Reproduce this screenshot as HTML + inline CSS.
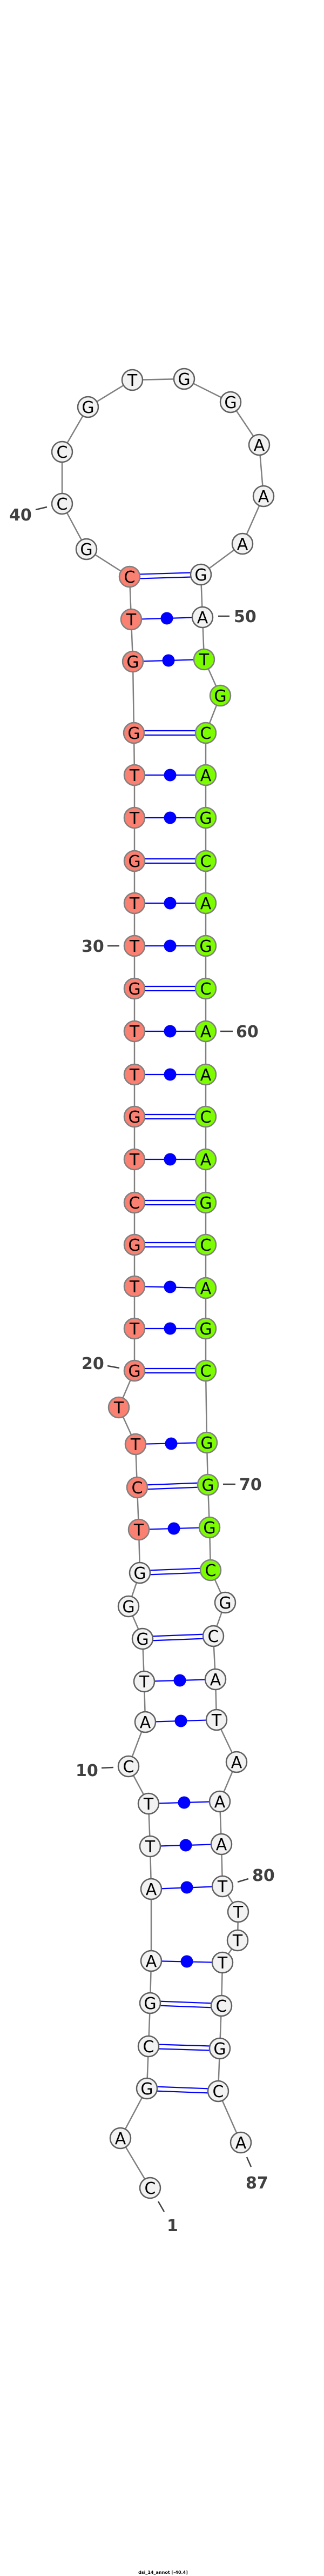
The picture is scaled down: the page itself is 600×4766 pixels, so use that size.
<!DOCTYPE html>
<html><head><meta charset="utf-8"><style>
html,body{margin:0;padding:0;background:#fff;}
svg{display:block;}
.n text{font-family:"DejaVu Sans","Liberation Sans",sans-serif;font-size:30px;text-anchor:middle;fill:#000;}
.lb{font-family:"DejaVu Sans","Liberation Sans",sans-serif;font-size:30px;font-weight:bold;fill:#404040;}
</style></head><body>
<svg width="600" height="4766" viewBox="0 0 600 4766" xmlns="http://www.w3.org/2000/svg">
<polyline fill="none" stroke="#808080" stroke-width="2.5" points="278,4048 223,3956 272,3864 275,3786 278,3706 280,3628 280,3495 278,3416 275,3337 238,3268 269,3186 267,3111 264,3032 238,2972 259,2910 257,2830 254,2752 251,2672 220,2604 249,2536 249,2458 249,2380 249,2303 249,2225 249,2145 249,2066 249,1988 249,1908 249,1829 249,1750 249,1671 249,1593 249,1513 249,1434 248,1356 246,1224 243,1146 240,1067 160,1016 115,932 115,836 163,753 245,703 341,701 427,744 480,823 488,918 449,1006 372,1063 375,1142 378,1220 408,1287 381,1356 381,1434 381,1513 381,1593 381,1671 381,1750 381,1829 381,1908 381,1988 381,2066 381,2145 381,2225 381,2303 381,2383 381,2458 381,2536 383,2669 385,2747 388,2826 390,2905 417,2965 395,3027 399,3107 401,3182 438,3260 407,3333 410,3412 412,3490 441,3537 440,3590 412,3631 410,3711 407,3790 404,3869 446,3964"/>
<g stroke="#0000ff" stroke-width="2.2">
<!-- double pairs -->
<line x1="240" y1="1063" x2="372" y2="1059"/><line x1="240" y1="1071" x2="372" y2="1067"/>
<line x1="248" y1="1352" x2="381" y2="1352"/><line x1="248" y1="1360" x2="381" y2="1360"/>
<line x1="249" y1="1589" x2="381" y2="1589"/><line x1="249" y1="1597" x2="381" y2="1597"/>
<line x1="249" y1="1825" x2="381" y2="1825"/><line x1="249" y1="1833" x2="381" y2="1833"/>
<line x1="249" y1="2062" x2="381" y2="2062"/><line x1="249" y1="2070" x2="381" y2="2070"/>
<line x1="249" y1="2221" x2="381" y2="2221"/><line x1="249" y1="2229" x2="381" y2="2229"/>
<line x1="249" y1="2299" x2="381" y2="2299"/><line x1="249" y1="2307" x2="381" y2="2307"/>
<line x1="249" y1="2532" x2="381" y2="2532"/><line x1="249" y1="2540" x2="381" y2="2540"/>
<line x1="254" y1="2748" x2="385" y2="2743"/><line x1="254" y1="2756" x2="385" y2="2751"/>
<line x1="259" y1="2906" x2="390" y2="2901"/><line x1="259" y1="2914" x2="390" y2="2909"/>
<line x1="264" y1="3028" x2="395" y2="3023"/><line x1="264" y1="3036" x2="395" y2="3031"/>
<line x1="278" y1="3702" x2="410" y2="3707"/><line x1="278" y1="3710" x2="410" y2="3715"/>
<line x1="275" y1="3782" x2="407" y2="3786"/><line x1="275" y1="3790" x2="407" y2="3794"/>
<line x1="272" y1="3860" x2="404" y2="3865"/><line x1="272" y1="3868" x2="404" y2="3873"/>
<!-- single pairs -->
<line x1="243" y1="1146" x2="375" y2="1142"/>
<line x1="246" y1="1224" x2="378" y2="1220"/>
<line x1="249" y1="1434" x2="381" y2="1434"/>
<line x1="249" y1="1513" x2="381" y2="1513"/>
<line x1="249" y1="1671" x2="381" y2="1671"/>
<line x1="249" y1="1750" x2="381" y2="1750"/>
<line x1="249" y1="1908" x2="381" y2="1908"/>
<line x1="249" y1="1988" x2="381" y2="1988"/>
<line x1="249" y1="2145" x2="381" y2="2145"/>
<line x1="249" y1="2380" x2="381" y2="2383"/>
<line x1="249" y1="2458" x2="381" y2="2458"/>
<line x1="251" y1="2672" x2="383" y2="2669"/>
<line x1="257" y1="2830" x2="388" y2="2826"/>
<line x1="267" y1="3111" x2="399" y2="3107"/>
<line x1="269" y1="3186" x2="401" y2="3182"/>
<line x1="275" y1="3337" x2="407" y2="3333"/>
<line x1="278" y1="3416" x2="410" y2="3412"/>
<line x1="280" y1="3495" x2="412" y2="3490"/>
<line x1="280" y1="3628" x2="412" y2="3631"/>
</g>
<g fill="#0000ff">
<circle cx="309" cy="1144" r="11.5"/><circle cx="312" cy="1222" r="11.5"/>
<circle cx="315" cy="1434" r="11.5"/><circle cx="315" cy="1513" r="11.5"/>
<circle cx="315" cy="1671" r="11.5"/><circle cx="315" cy="1750" r="11.5"/>
<circle cx="315" cy="1908" r="11.5"/><circle cx="315" cy="1988" r="11.5"/>
<circle cx="315" cy="2145" r="11.5"/><circle cx="315" cy="2381" r="11.5"/>
<circle cx="315" cy="2458" r="11.5"/><circle cx="317" cy="2671" r="11.5"/>
<circle cx="322" cy="2828" r="11.5"/><circle cx="333" cy="3109" r="11.5"/>
<circle cx="335" cy="3184" r="11.5"/><circle cx="341" cy="3335" r="11.5"/>
<circle cx="344" cy="3414" r="11.5"/><circle cx="346" cy="3492" r="11.5"/>
<circle cx="346" cy="3629" r="11.5"/>
</g>
<g class="n" stroke-width="2.5">
<g fill="#f2f2f2" stroke="#606060">
<circle cx="278" cy="4048" r="19"/><circle cx="223" cy="3956" r="19"/><circle cx="272" cy="3864" r="19"/><circle cx="275" cy="3786" r="19"/><circle cx="278" cy="3706" r="19"/><circle cx="280" cy="3628" r="19"/><circle cx="280" cy="3495" r="19"/><circle cx="278" cy="3416" r="19"/><circle cx="275" cy="3337" r="19"/><circle cx="238" cy="3268" r="19"/><circle cx="269" cy="3186" r="19"/><circle cx="267" cy="3111" r="19"/><circle cx="264" cy="3032" r="19"/><circle cx="238" cy="2972" r="19"/><circle cx="259" cy="2910" r="19"/>
<circle cx="160" cy="1016" r="19"/><circle cx="115" cy="932" r="19"/><circle cx="115" cy="836" r="19"/><circle cx="163" cy="753" r="19"/><circle cx="245" cy="703" r="19"/><circle cx="341" cy="701" r="19"/><circle cx="427" cy="744" r="19"/><circle cx="480" cy="823" r="19"/><circle cx="488" cy="918" r="19"/><circle cx="449" cy="1006" r="19"/><circle cx="372" cy="1063" r="19"/><circle cx="375" cy="1142" r="19"/>
<circle cx="417" cy="2965" r="19"/><circle cx="395" cy="3027" r="19"/><circle cx="399" cy="3107" r="19"/><circle cx="401" cy="3182" r="19"/><circle cx="438" cy="3260" r="19"/><circle cx="407" cy="3333" r="19"/><circle cx="410" cy="3412" r="19"/><circle cx="412" cy="3490" r="19"/><circle cx="441" cy="3537" r="19"/><circle cx="440" cy="3590" r="19"/><circle cx="412" cy="3631" r="19"/><circle cx="410" cy="3711" r="19"/><circle cx="407" cy="3790" r="19"/><circle cx="404" cy="3869" r="19"/><circle cx="446" cy="3964" r="19"/>
</g>
<g fill="#fa8072" stroke="#808080">
<circle cx="257" cy="2830" r="19"/><circle cx="254" cy="2752" r="19"/><circle cx="251" cy="2672" r="19"/><circle cx="220" cy="2604" r="19"/><circle cx="249" cy="2536" r="19"/><circle cx="249" cy="2458" r="19"/><circle cx="249" cy="2380" r="19"/><circle cx="249" cy="2303" r="19"/><circle cx="249" cy="2225" r="19"/><circle cx="249" cy="2145" r="19"/><circle cx="249" cy="2066" r="19"/><circle cx="249" cy="1988" r="19"/><circle cx="249" cy="1908" r="19"/><circle cx="249" cy="1829" r="19"/><circle cx="249" cy="1750" r="19"/><circle cx="249" cy="1671" r="19"/><circle cx="249" cy="1593" r="19"/><circle cx="249" cy="1513" r="19"/><circle cx="249" cy="1434" r="19"/><circle cx="248" cy="1356" r="19"/><circle cx="246" cy="1224" r="19"/><circle cx="243" cy="1146" r="19"/><circle cx="240" cy="1067" r="19"/>
</g>
<g fill="#7cfc00" stroke="#808080">
<circle cx="378" cy="1220" r="19"/><circle cx="408" cy="1287" r="19"/><circle cx="381" cy="1356" r="19"/><circle cx="381" cy="1434" r="19"/><circle cx="381" cy="1513" r="19"/><circle cx="381" cy="1593" r="19"/><circle cx="381" cy="1671" r="19"/><circle cx="381" cy="1750" r="19"/><circle cx="381" cy="1829" r="19"/><circle cx="381" cy="1908" r="19"/><circle cx="381" cy="1988" r="19"/><circle cx="381" cy="2066" r="19"/><circle cx="381" cy="2145" r="19"/><circle cx="381" cy="2225" r="19"/><circle cx="381" cy="2303" r="19"/><circle cx="381" cy="2383" r="19"/><circle cx="381" cy="2458" r="19"/><circle cx="381" cy="2536" r="19"/><circle cx="383" cy="2669" r="19"/><circle cx="385" cy="2747" r="19"/><circle cx="388" cy="2826" r="19"/><circle cx="390" cy="2905" r="19"/>
</g>
<g transform="translate(0,11)">
<text x="278" y="4048">C</text><text x="223" y="3956">A</text><text x="272" y="3864">G</text><text x="275" y="3786">C</text><text x="278" y="3706">G</text><text x="280" y="3628">A</text><text x="280" y="3495">A</text><text x="278" y="3416">T</text><text x="275" y="3337">T</text><text x="238" y="3268">C</text><text x="269" y="3186">A</text><text x="267" y="3111">T</text><text x="264" y="3032">G</text><text x="238" y="2972">G</text><text x="259" y="2910">G</text>
<text x="257" y="2830">T</text><text x="254" y="2752">C</text><text x="251" y="2672">T</text><text x="220" y="2604">T</text><text x="249" y="2536">G</text><text x="249" y="2458">T</text><text x="249" y="2380">T</text><text x="249" y="2303">G</text><text x="249" y="2225">C</text><text x="249" y="2145">T</text><text x="249" y="2066">G</text><text x="249" y="1988">T</text><text x="249" y="1908">T</text><text x="249" y="1829">G</text><text x="249" y="1750">T</text><text x="249" y="1671">T</text><text x="249" y="1593">G</text><text x="249" y="1513">T</text><text x="249" y="1434">T</text><text x="248" y="1356">G</text><text x="246" y="1224">G</text><text x="243" y="1146">T</text><text x="240" y="1067">C</text>
<text x="160" y="1016">G</text><text x="115" y="932">C</text><text x="115" y="836">C</text><text x="163" y="753">G</text><text x="245" y="703">T</text><text x="341" y="701">G</text><text x="427" y="744">G</text><text x="480" y="823">A</text><text x="488" y="918">A</text><text x="449" y="1006">A</text><text x="372" y="1063">G</text><text x="375" y="1142">A</text>
<text x="378" y="1220">T</text><text x="408" y="1287">G</text><text x="381" y="1356">C</text><text x="381" y="1434">A</text><text x="381" y="1513">G</text><text x="381" y="1593">C</text><text x="381" y="1671">A</text><text x="381" y="1750">G</text><text x="381" y="1829">C</text><text x="381" y="1908">A</text><text x="381" y="1988">A</text><text x="381" y="2066">C</text><text x="381" y="2145">A</text><text x="381" y="2225">G</text><text x="381" y="2303">C</text><text x="381" y="2383">A</text><text x="381" y="2458">G</text><text x="381" y="2536">C</text><text x="383" y="2669">G</text><text x="385" y="2747">G</text><text x="388" y="2826">G</text><text x="390" y="2905">C</text>
<text x="417" y="2965">G</text><text x="395" y="3027">C</text><text x="399" y="3107">A</text><text x="401" y="3182">T</text><text x="438" y="3260">A</text><text x="407" y="3333">A</text><text x="410" y="3412">A</text><text x="412" y="3490">T</text><text x="441" y="3537">T</text><text x="440" y="3590">T</text><text x="412" y="3631">T</text><text x="410" y="3711">C</text><text x="407" y="3790">G</text><text x="404" y="3869">C</text><text x="446" y="3964">A</text>
</g>
</g>
<g stroke="#404040" stroke-width="2.5">
<line x1="66" y1="943" x2="87" y2="938"/>
<line x1="404" y1="1140" x2="425" y2="1140"/>
<line x1="199" y1="1750" x2="221" y2="1750"/>
<line x1="408" y1="1908" x2="431" y2="1908"/>
<line x1="199" y1="2527" x2="221" y2="2531"/>
<line x1="413" y1="2746" x2="436" y2="2746"/>
<line x1="188" y1="3271" x2="210" y2="3270"/>
<line x1="440" y1="3482" x2="460" y2="3476"/>
<line x1="457" y1="3991" x2="465" y2="4009"/>
<line x1="293" y1="4073" x2="304" y2="4092"/>
</g>
<g class="lb">
<text x="17" y="963">40</text>
<text x="433" y="1151">50</text>
<text x="151" y="1761">30</text>
<text x="437" y="1919">60</text>
<text x="151" y="2533">20</text>
<text x="443" y="2757">70</text>
<text x="140" y="3286">10</text>
<text x="467" y="3480">80</text>
<text x="455" y="4049">87</text>
<text x="309" y="4128">1</text>
</g>
<text x="302" y="4762" text-anchor="middle" font-family="'DejaVu Sans','Liberation Sans',sans-serif" font-size="8" font-weight="bold" fill="#000">dsi_14_annot [-40.4]</text>
</svg>
</body></html>
